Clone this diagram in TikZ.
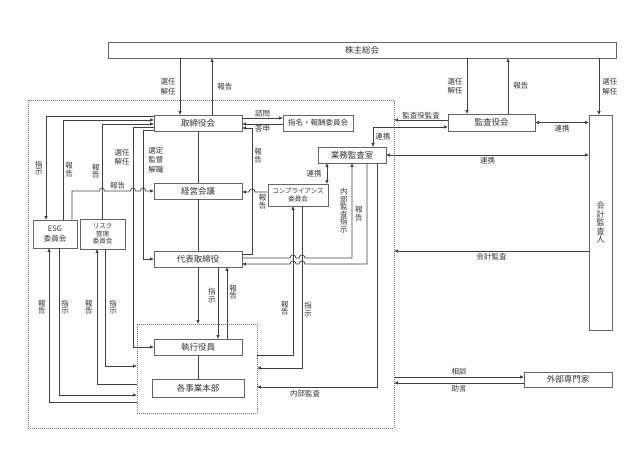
\documentclass[tikz,border=0pt]{standalone}
\usepackage{fontspec}
\newfontfamily\jp{Noto Sans CJK JP}
\usetikzlibrary{arrows.meta,positioning,calc}

\begin{document}
\begin{tikzpicture}[
  x=1pt, y=-1pt,
  box/.style={draw=black!60, line width=0.7pt, fill=white, inner sep=0pt,
              align=center, text=black!80, font=\jp\fontsize{8.5}{9.5}\selectfont},
  smallbox/.style={box, font=\jp\fontsize{6.5}{7.5}\selectfont},
  grpbox/.style={draw=black!55, line width=0.7pt, dash pattern=on 1pt off 1pt, inner sep=0pt},
  arr/.style={-{Triangle[length=3.5pt,width=3pt]}, draw=black!75, line width=0.7pt},
  dbl/.style={{Triangle[length=3.5pt,width=3pt]}-{Triangle[length=3.5pt,width=3pt]},
              draw=black!75, line width=0.7pt},
  ln/.style={draw=black!75, line width=0.7pt},
  lbl/.style={inner sep=1pt, align=center, text=black!80, font=\jp\fontsize{7.5}{9.5}\selectfont},
  vlbl/.style={inner sep=1pt, align=center, text=black!80, font=\jp\fontsize{7.5}{7.5}\selectfont},
]
\useasboundingbox (0,0) rectangle (633,465);

% Groups (dotted)
\node[grpbox, minimum width=366pt, minimum height=328pt] (corp) at (211,264) {};
\node[grpbox, minimum width=120pt, minimum height=89pt] (grp) at (197,368.5) {};

% Boxes
\node[box, minimum width=508pt, minimum height=16pt] (soukai) at (362,50) {株主総会};
\node[box, minimum width=88pt, minimum height=16pt] (board) at (198,123) {取締役会};
\node[box, minimum width=70pt, minimum height=16pt, font=\jp\fontsize{7.5}{9}\selectfont] (nomcom) at (318,123) {指名・報酬委員会};
\node[box, minimum width=68pt, minimum height=16pt] (iaudit) at (352,155) {業務監査室};
\node[box, minimum width=88pt, minimum height=16pt] (mgmt) at (198,191) {経営会議};
\node[smallbox, minimum width=60pt, minimum height=22pt] (compl) at (298,195) {コンプライアンス\\委員会};
\node[box, minimum width=44pt, minimum height=28pt, font=\jp\fontsize{7.5}{10}\selectfont] (esg) at (55,234) {ESG\\委員会};
\node[smallbox, minimum width=45pt, minimum height=30pt] (risk) at (102.5,234) {リスク\\管理\\委員会};
\node[box, minimum width=88pt, minimum height=16pt] (ceo) at (198,259) {代表取締役};
\node[box, minimum width=88pt, minimum height=16pt] (officers) at (198,347) {執行役員};
\node[box, minimum width=92pt, minimum height=18pt] (divs) at (198,388) {各事業本部};
\node[box, minimum width=87pt, minimum height=17pt] (kansa) at (491.5,122.5) {監査役会};
\node[box, minimum width=23pt, minimum height=215pt, font=\jp\fontsize{8}{8.5}\selectfont] (cpa) at (600.5,222.5) {会\\計\\監\\査\\人};
\node[box, minimum width=88pt, minimum height=15pt] (experts) at (568,379.5) {外部専門家};

% Shareholders meeting
\draw[arr] (soukai.south -| 180,0) -- (board.north -| 180,0) node[lbl, midway, left=3pt] {選任\\解任};
\draw[arr] (board.north -| 212,0) -- (soukai.south -| 212,0) node[lbl, midway, right=4pt] {報告};
\draw[arr] (soukai.south -| 467,0) -- (kansa.north -| 467,0) node[lbl, midway, left=3pt] {選任\\解任};
\draw[arr] (kansa.north -| 508,0) -- (soukai.south -| 508,0) node[lbl, midway, right=4pt] {報告};
\draw[arr] (soukai.south -| 599,0) -- (cpa.north -| 599,0) node[lbl, midway, right=2pt] {選任\\解任};

% Auditors, accounting auditor, experts
\draw[arr] (kansa.west |- 0,120) -- (corp.east |- 0,120) node[lbl, midway, above=0pt] {監査役監査};
\draw[dbl] (kansa.west |- 0,127) -| (iaudit.north -| 373,0) node[lbl, pos=0.75, right=1pt] {連携};
\draw[dbl] (kansa.east) -- (cpa.west |- kansa.east) node[lbl, midway, below=1pt] {連携};
\draw[dbl] (iaudit.east) -- (cpa.west |- iaudit.east) node[lbl, midway, below=1pt] {連携};
\draw[arr] (cpa.west |- 0,251) -- (corp.east |- 0,251) node[lbl, midway, below=1pt] {会計監査};
\draw[arr] (corp.east |- 0,377) -- (experts.west |- 0,377) node[lbl, midway, above=1pt] {相談};
\draw[arr] (experts.west |- 0,383) -- (corp.east |- 0,383) node[lbl, midway, below=1pt] {助言};

% Board and nomination committee
\draw[arr] (board.east |- 0,118) -- (nomcom.west |- 0,118) node[lbl, midway, above=0pt] {諮問};
\draw[arr] (nomcom.west |- 0,124) -- (board.east |- 0,124) node[lbl, midway, below=0pt] {答申};

% Board to committees, officers, CEO
\draw[arr] (board.west |- 0,116.5) -| (esg.north -| 46,0) node[vlbl, pos=0.75, left=2pt] {指\\示};
\draw[arr] (esg.north -| 63,0) |- (board.west |- 0,120) node[vlbl, pos=0.25, right=1pt] {報\\告};
\draw[arr] (risk.north -| 102,0) |- (board.west |- 0,124) node[vlbl, pos=0.25, left=1pt] {報\\告};
\draw[arr] (board.west |- 0,127.5) -| (133,0 |- officers.west) node[lbl, pos=0.567, left=2pt] {選任\\解任} -- (officers.west);
\draw[arr] (board.west |- 0,130) -| (143,0 |- ceo.west) node[lbl, pos=0.616, right=4pt] {選定\\監督\\解職} -- (ceo.west);
\draw[arr] (esg.north -| 72,0) -- (72,191) -- (99.5,191) .. controls (99.5,187) and (104.5,187) .. (104.5,191)
  -- (130.5,191) node[lbl, midway, above=0pt] {報告}
  .. controls (130.5,187) and (135.5,187) .. (135.5,191) -- (140.5,191)
  .. controls (140.5,187) and (145.5,187) .. (145.5,191) -- (mgmt.west);

% Main line
\draw[ln] (board.south) -- (mgmt.north);
\draw[ln] (mgmt.south) -- (ceo.north);
\draw[arr] (ceo.south) -- (grp.north -| ceo.south);
\draw[arr] (ceo.south -| 218,0) -- (officers.north -| 218,0) node[vlbl, pos=0.4, left=1pt] {指\\示};
\draw[arr] (officers.north -| 227,0) -- (ceo.south -| 227,0) node[vlbl, pos=0.65, right=1pt] {報\\告};
\draw[ln] (officers.south) -- (divs.north);
\draw[arr] (ceo.east |- 0,254.5) -| (252,128) node[vlbl, pos=0.89, right=1pt] {報\\告} -- (board.east |- 0,128);

% Compliance committee and internal audit office
\draw[arr] (compl.west |- 0,192) -- (255,192) node[vlbl, pos=0.4, below=1pt] {報\\告}
  .. controls (255,188) and (249,188) .. (249,192) -- (mgmt.east |- 0,192);
\draw[dbl] (iaudit.south -| 327,0) -- (compl.north -| 327,0) node[lbl, midway, left=4pt] {連携};
\draw[arr] (ceo.east |- 0,258) -- (290,258) .. controls (290,254) and (296,254) .. (296,258)
  -- (299,258) .. controls (299,254) and (305,254) .. (305,258)
  -| (iaudit.south -| 352,0) node[vlbl, pos=0.75, left=3pt] {内\\部\\監\\査\\指\\示};
\draw[arr] (iaudit.south -| 367,0) |- (305,264) node[vlbl, pos=0.25, left=3pt] {報\\告}
  .. controls (305,260) and (299,260) .. (299,264) -- (296,264)
  .. controls (296,260) and (290,260) .. (290,264) -- (ceo.east |- 0,264);
\draw[arr] (iaudit.south -| 377,0) |- (grp.east |- 0,387) node[lbl, pos=0.8, below=2pt] {内部監査};
\draw[arr] (compl.south -| 302,0) |- (grp.east |- 0,368) node[vlbl, pos=0.32, right=1pt] {指\\示};
\draw[arr] (grp.east |- 0,355) -| (compl.south -| 293,0) node[vlbl, pos=0.658, left=3pt] {報\\告};

% ESG and risk committees to business units
\draw[arr] (grp.west |- 0,402) -| (esg.south -| 49,0) node[vlbl, pos=0.808, left=2pt] {報\\告};
\draw[arr] (esg.south -| 59,0) |- (grp.west |- 0,395) node[vlbl, pos=0.2, right=1pt] {指\\示};
\draw[arr] (grp.west |- 0,384) -| (risk.south -| 97,0) node[vlbl, pos=0.785, left=3pt] {報\\告};
\draw[arr] (risk.south -| 105,0) |- (grp.west |- 0,366) node[vlbl, pos=0.248, right=3pt] {指\\示};
\end{tikzpicture}
\end{document}
